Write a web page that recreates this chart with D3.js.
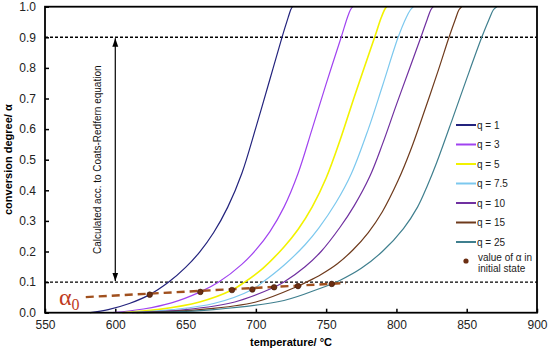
<!DOCTYPE html>
<html>
<head>
<meta charset="utf-8">
<style>
  body { margin: 0; background: #fff; }
  svg { font-family: "Liberation Sans", Arial, sans-serif; }
</style>
</head>
<body>
<script src="https://d3js.org/d3.v7.min.js"></script>
<script>

// conversion curves, temperature (°C) and alpha for each heating rate q
var tempQ1  = [582, 595, 610, 624.5, 638, 650, 660, 670, 680, 690, 700, 710, 718.6, 723, 724.8, 726];
var alphaQ1 = [0, 0.01, 0.03, 0.059, 0.1, 0.148, 0.198, 0.262, 0.345, 0.455, 0.605, 0.763, 0.9, 0.965, 0.99, 1];

var tempQ3  = [598, 620, 640, 660.5, 673.6, 690, 700, 710, 720, 730, 740, 750, 760.7, 765, 767.3, 769];
var alphaQ3 = [0, 0.012, 0.032, 0.068, 0.1, 0.158, 0.205, 0.265, 0.345, 0.455, 0.6, 0.748, 0.9, 0.963, 0.99, 1];

var tempQ5  = [605, 630, 660, 683, 692, 705, 720, 730, 740, 750, 760, 770, 784.5, 789, 791.5, 793];
var alphaQ5 = [0, 0.01, 0.035, 0.074, 0.1, 0.145, 0.215, 0.272, 0.345, 0.44, 0.565, 0.705, 0.9, 0.962, 0.99, 1];

var tempQ75  = [610, 640, 670, 697.5, 705, 720, 735, 745, 757, 768, 780, 790, 801.2, 807, 810, 812];
var alphaQ75 = [0, 0.01, 0.03, 0.076, 0.1, 0.155, 0.222, 0.278, 0.36, 0.455, 0.6, 0.74, 0.9, 0.965, 0.99, 1];

var tempQ10  = [612, 650, 685, 713, 720, 735, 746.4, 760, 770, 781, 790, 800, 810, 817.4, 822, 824.5, 826.2];
var alphaQ10 = [0, 0.01, 0.035, 0.083, 0.1, 0.15, 0.2, 0.28, 0.35, 0.445, 0.55, 0.68, 0.806, 0.9, 0.96, 0.99, 1];

var tempQ15  = [615, 660, 700, 730, 736, 746.4, 758, 769, 780, 790, 801, 810, 820, 830, 837.4, 842, 844.5, 846.4];
var alphaQ15 = [0, 0.01, 0.035, 0.087, 0.1, 0.125, 0.16, 0.205, 0.262, 0.33, 0.43, 0.53, 0.66, 0.795, 0.9, 0.96, 0.99, 1];

var tempQ25  = [620, 670, 720, 746, 754, 760, 775, 790, 805, 815, 822, 828.6, 840, 850, 860.7, 866, 869, 871.4];
var alphaQ25 = [0, 0.01, 0.04, 0.08, 0.094, 0.106, 0.145, 0.2, 0.275, 0.345, 0.415, 0.49, 0.635, 0.765, 0.9, 0.96, 0.99, 1];

var seriesNames = ["q = 1", "q = 3", "q = 5", "q = 7.5", "q = 10", "q = 15", "q = 25"];
var seriesTemps = [tempQ1, tempQ3, tempQ5, tempQ75, tempQ10, tempQ15, tempQ25];
var seriesAlphas = [alphaQ1, alphaQ3, alphaQ5, alphaQ75, alphaQ10, alphaQ15, alphaQ25];
var seriesColors = ["#23237d", "#a043f0", "#f2f200", "#7cc8ee", "#7030a0", "#6e3a1c", "#3f7f8e"];

// initial-state conversion points and the fitted line through them
var alpha0Temp = [624.5, 660.5, 683, 697.5, 713, 730, 754];
var alpha0Val  = [0.059, 0.068, 0.074, 0.076, 0.083, 0.087, 0.094];
var fitTemp  = [579, 764];
var fitAlpha = [0.051, 0.097];

var xTicks = [550, 600, 650, 700, 750, 800, 850, 900];
var yTicks = [0, 0.1, 0.2, 0.3, 0.4, 0.5, 0.6, 0.7, 0.8, 0.9, 1.0];
var guideLevels = [0.1, 0.9];
var arrowTemp = 600;

var W = 550, H = 350;
var pLeft = 45, pRight = 537, pTop = 6.7, pBottom = 312.7;

var x = d3.scaleLinear().domain([550, 900]).range([pLeft, pRight]);
var y = d3.scaleLinear().domain([0, 1]).range([pBottom, pTop]);

var svg = d3.select("body").append("svg")
    .attr("width", W)
    .attr("height", H);

var defs = svg.append("defs");
defs.append("marker")
    .attr("id", "ah")
    .attr("viewBox", "0 0 10 10")
    .attr("refX", 10).attr("refY", 5)
    .attr("markerWidth", 7).attr("markerHeight", 7)
    .attr("orient", "auto-start-reverse")
  .append("path")
    .attr("d", "M0,1.5 L10,5 L0,8.5 Z")
    .attr("fill", "#000");

// axes
var xAxis = d3.axisBottom(x).tickValues(xTicks).tickSizeInner(-4).tickSizeOuter(0).tickPadding(8)
    .tickFormat(d3.format("d"));
var yAxis = d3.axisLeft(y).tickValues(yTicks).tickSizeInner(-4).tickSizeOuter(0).tickPadding(9)
    .tickFormat(d3.format(".1f"));

svg.append("g")
    .attr("transform", "translate(0," + pBottom + ")")
    .call(xAxis)
    .call(function(g) { g.select(".domain").remove(); })
    .call(function(g) {
      g.selectAll("text").attr("font-size", 12).attr("fill", "#222").attr("font-family", null);
      g.selectAll("line").attr("stroke", "#000").attr("stroke-width", 1.5);
    });

svg.append("g")
    .attr("transform", "translate(" + pLeft + ",0)")
    .call(yAxis)
    .call(function(g) { g.select(".domain").remove(); })
    .call(function(g) {
      g.selectAll("text").attr("font-size", 12).attr("fill", "#222").attr("font-family", null);
      g.selectAll("line").attr("stroke", "#000").attr("stroke-width", 1.5);
    });

// guide lines at 0.1 and 0.9
svg.selectAll(".guide")
    .data(guideLevels)
  .enter().append("line")
    .attr("class", "guide")
    .attr("x1", pLeft).attr("x2", pRight)
    .attr("y1", function(d) { return y(d); })
    .attr("y2", function(d) { return y(d); })
    .attr("stroke", "#000")
    .attr("stroke-width", 1.4)
    .attr("stroke-dasharray", "3,2");

// curves
var line = d3.line()
    .x(function(d) { return x(d[0]); })
    .y(function(d) { return y(d[1]); })
    .curve(d3.curveCatmullRom.alpha(0.5));

seriesNames.forEach(function(name, i) {
  var pts = seriesTemps[i].map(function(t, j) { return [t, seriesAlphas[i][j]]; });
  svg.append("path")
      .datum(pts)
      .attr("d", line)
      .attr("fill", "none")
      .attr("stroke", seriesColors[i])
      .attr("stroke-width", i == 2 ? 1.6 : 1.2);
});

// fitted alpha0 line
svg.append("line")
    .attr("x1", x(fitTemp[0])).attr("y1", y(fitAlpha[0]))
    .attr("x2", x(fitTemp[1])).attr("y2", y(fitAlpha[1]))
    .attr("stroke", "#a0501e")
    .attr("stroke-width", 2.4)
    .attr("stroke-dasharray", "8,5");

svg.selectAll(".a0")
    .data(alpha0Temp)
  .enter().append("circle")
    .attr("class", "a0")
    .attr("cx", function(d) { return x(d); })
    .attr("cy", function(d, i) { return y(alpha0Val[i]); })
    .attr("r", 2.8)
    .attr("fill", "#6b2e12")
    .attr("stroke", "#3a1a08")
    .attr("stroke-width", 0.6);

// alpha0 label
var a0 = svg.append("text")
    .attr("x", 59)
    .attr("y", 305)
    .attr("fill", "#bf3b22")
    .attr("font-family", "'Liberation Serif', 'Times New Roman', serif")
    .attr("font-size", 24);
a0.append("tspan").text("α");
a0.append("tspan").attr("font-size", 16).attr("dy", 5).text("0");

// double arrow
svg.append("line")
    .attr("x1", x(arrowTemp)).attr("x2", x(arrowTemp))
    .attr("y1", y(guideLevels[1]) + 1).attr("y2", y(guideLevels[0]) - 1)
    .attr("stroke", "#000")
    .attr("stroke-width", 1.2)
    .attr("marker-start", "url(#ah)")
    .attr("marker-end", "url(#ah)");

svg.append("text")
    .attr("transform", "translate(101," + ((y(0.1) + y(0.9)) / 2 + 0) + ")rotate(-90)")
    .attr("text-anchor", "middle")
    .attr("font-size", 10)
    .attr("fill", "#111")
    .text("Calculated acc. to Coats-Redfern equation");

// frame
svg.append("rect")
    .attr("x", pLeft).attr("y", pTop)
    .attr("width", pRight - pLeft).attr("height", pBottom - pTop)
    .attr("fill", "none")
    .attr("stroke", "#000")
    .attr("stroke-width", 1.8);

// axis titles
svg.append("text")
    .attr("x", (pLeft + pRight) / 2)
    .attr("y", 346)
    .attr("text-anchor", "middle")
    .attr("font-size", 11)
    .attr("font-weight", "bold")
    .text("temperature/ °C");

svg.append("text")
    .attr("transform", "translate(12," + ((pTop + pBottom) / 2) + ")rotate(-90)")
    .attr("text-anchor", "middle")
    .attr("font-size", 11)
    .attr("font-weight", "bold")
    .text("conversion degree/ α");

// legend
var legend = svg.selectAll(".legend")
    .data(seriesNames)
  .enter().append("g")
    .attr("class", "legend")
    .attr("transform", function(d, i) { return "translate(456," + (125 + i * 19.5) + ")"; });

legend.append("line")
    .attr("x1", 0).attr("x2", 20)
    .attr("stroke", function(d, i) { return seriesColors[i]; })
    .attr("stroke-width", 2);

legend.append("text")
    .attr("x", 21)
    .attr("dy", "0.35em")
    .attr("font-size", 10)
    .attr("fill", "#222")
    .text(function(d) { return d; });

svg.append("circle")
    .attr("cx", 466).attr("cy", 261)
    .attr("r", 2.6)
    .attr("fill", "#6b2e12");

var lt = svg.append("text")
    .attr("font-size", 10)
    .attr("fill", "#222");
lt.append("tspan").attr("x", 478).attr("y", 260.5).text("value of α in");
lt.append("tspan").attr("x", 478).attr("y", 271.5).text("initial state");

</script>
</body>
</html>
